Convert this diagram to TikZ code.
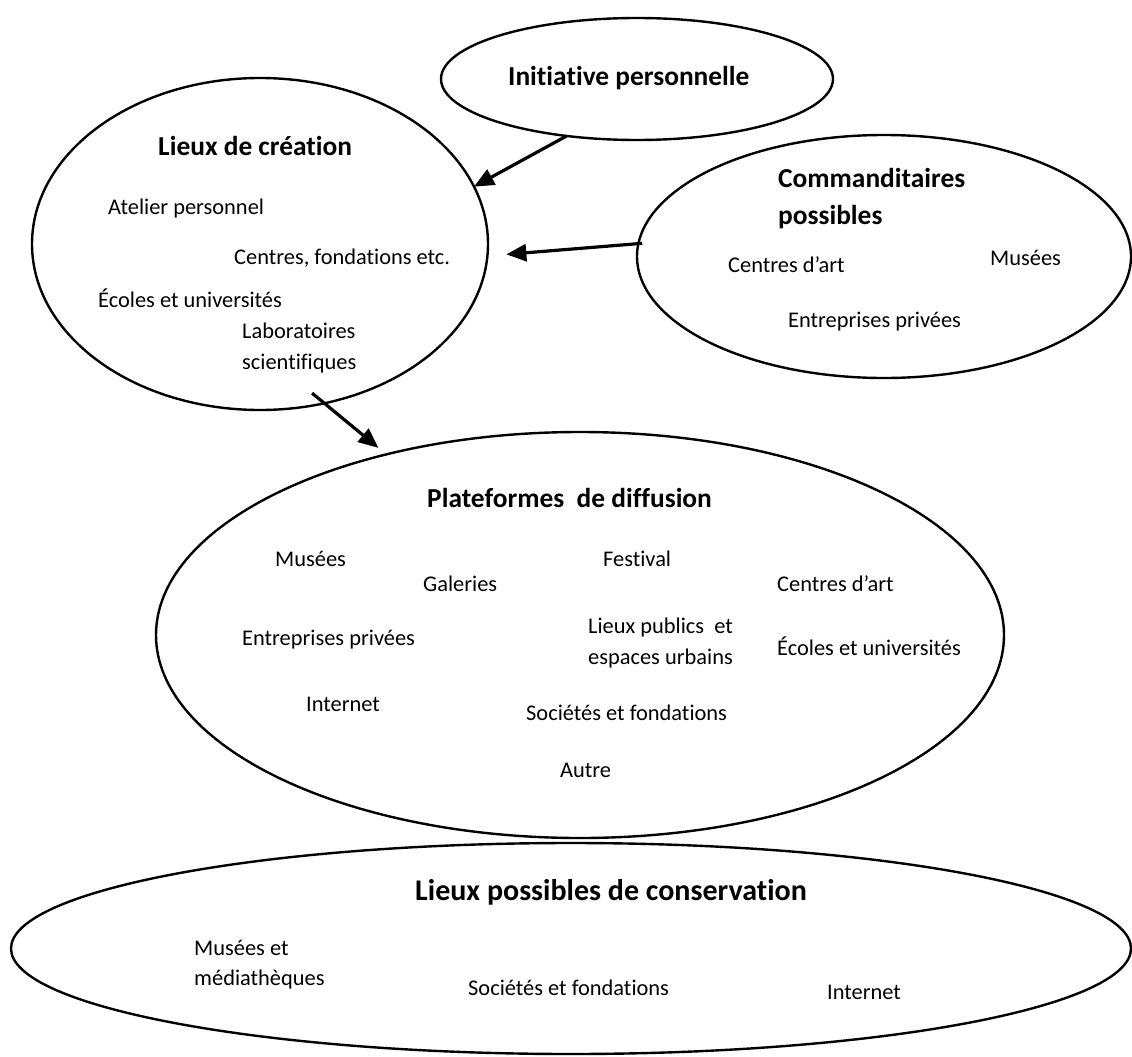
\documentclass[tikz,border=0pt]{standalone}
\usepackage{fontspec}
\setmainfont[Ligatures={CommonOff}]{Carlito}
\usetikzlibrary{shapes.geometric,arrows.meta}
\begin{document}
\begin{tikzpicture}[x=1pt,y=-1pt,
  oval/.style={ellipse,draw,line width=2.4pt,inner sep=0pt,outer sep=0pt},
  lbl/.style={anchor=mid west,inner sep=0pt,yshift=-5pt,font=\fontsize{22.4}{26}\selectfont},
  ttl/.style={anchor=mid west,inner sep=0pt,yshift=-5pt,font=\fontsize{27.4}{32}\selectfont\bfseries},
  bigttl/.style={anchor=mid west,inner sep=0pt,yshift=-5pt,font=\fontsize{30}{36}\selectfont\bfseries},
  arr/.style={line width=3.2pt,-{Triangle[length=20pt,width=17pt]}}]
\useasboundingbox (0,0) rectangle (1132,1057);

% ellipses
\node[oval,minimum width=392pt,minimum height=122pt] (init) at (637,79) {};
\node[oval,minimum width=456pt,minimum height=332pt] (lieux) at (260,244) {};
\node[oval,minimum width=494pt,minimum height=243pt] (comm) at (884,256.5) {};
\node[oval,minimum width=848pt,minimum height=406pt] (plat) at (580,635) {};
\node[oval,minimum width=1120pt,minimum height=211pt] (cons) at (571,948.5) {};

% Initiative
\node[ttl] (tinit) at (508,78) {Initiative personnelle};

% Lieux de creation
\node[ttl] (tlieux) at (158,148) {Lieux de création};
\node[lbl] (l1) at (108,207) {Atelier personnel};
\node[lbl] (l2) at (234,257) {Centres, fondations etc.};
\node[lbl] (l3) at (98,300) {Écoles et universités};
\node[lbl] (l4) at (242,331) {Laboratoires};
\node[lbl] (l5) at (242,362) {scientifiques};

% Commanditaires
\node[ttl] (tcomm1) at (778,180) {Commanditaires};
\node[ttl] (tcomm2) at (778,217) {possibles};
\node[lbl] (c1) at (728,265) {Centres d’art};
\node[lbl] (c2) at (990,258) {Musées};
\node[lbl] (c3) at (788,320) {Entreprises privées};

% Plateformes
\node[ttl] (tplat) at (427,500) {Plateformes\ \ de diffusion};
\node[lbl] (p1) at (275,559) {Musées};
\node[lbl] (p2) at (423,584) {Galeries};
\node[lbl] (p3) at (242,638) {Entreprises privées};
\node[lbl] (p4) at (306,704) {Internet};
\node[lbl] (p5) at (603,559) {Festival};
\node[lbl] (p6) at (777,584) {Centres d’art};
\node[lbl] (p7) at (588,626) {Lieux publics\ \ et};
\node[lbl] (p8) at (588,657) {espaces urbains};
\node[lbl] (p9) at (777,648) {Écoles et universités};
\node[lbl] (p10) at (526,713) {Sociétés et fondations};
\node[lbl] (p11) at (560,770) {Autre};

% Conservation
\node[bigttl] (tcons) at (415,893) {Lieux possibles de conservation};
\node[lbl] (k1) at (194,948) {Musées et};
\node[lbl] (k2) at (194,978) {médiathèques};
\node[lbl] (k3) at (468,988) {Sociétés et fondations};
\node[lbl] (k4) at (827,992) {Internet};

% arrows
\draw[arr] (init.219.1) -- (lieux.15);
\draw[arr,shorten <=-3.8pt,shorten >=19pt] (comm.177.2) -- (lieux.-3.1);
\draw[arr,shorten <=-15.9pt,shorten >=10.3pt] (lieux.-68) -- (plat.137.1);
\end{tikzpicture}
\end{document}
